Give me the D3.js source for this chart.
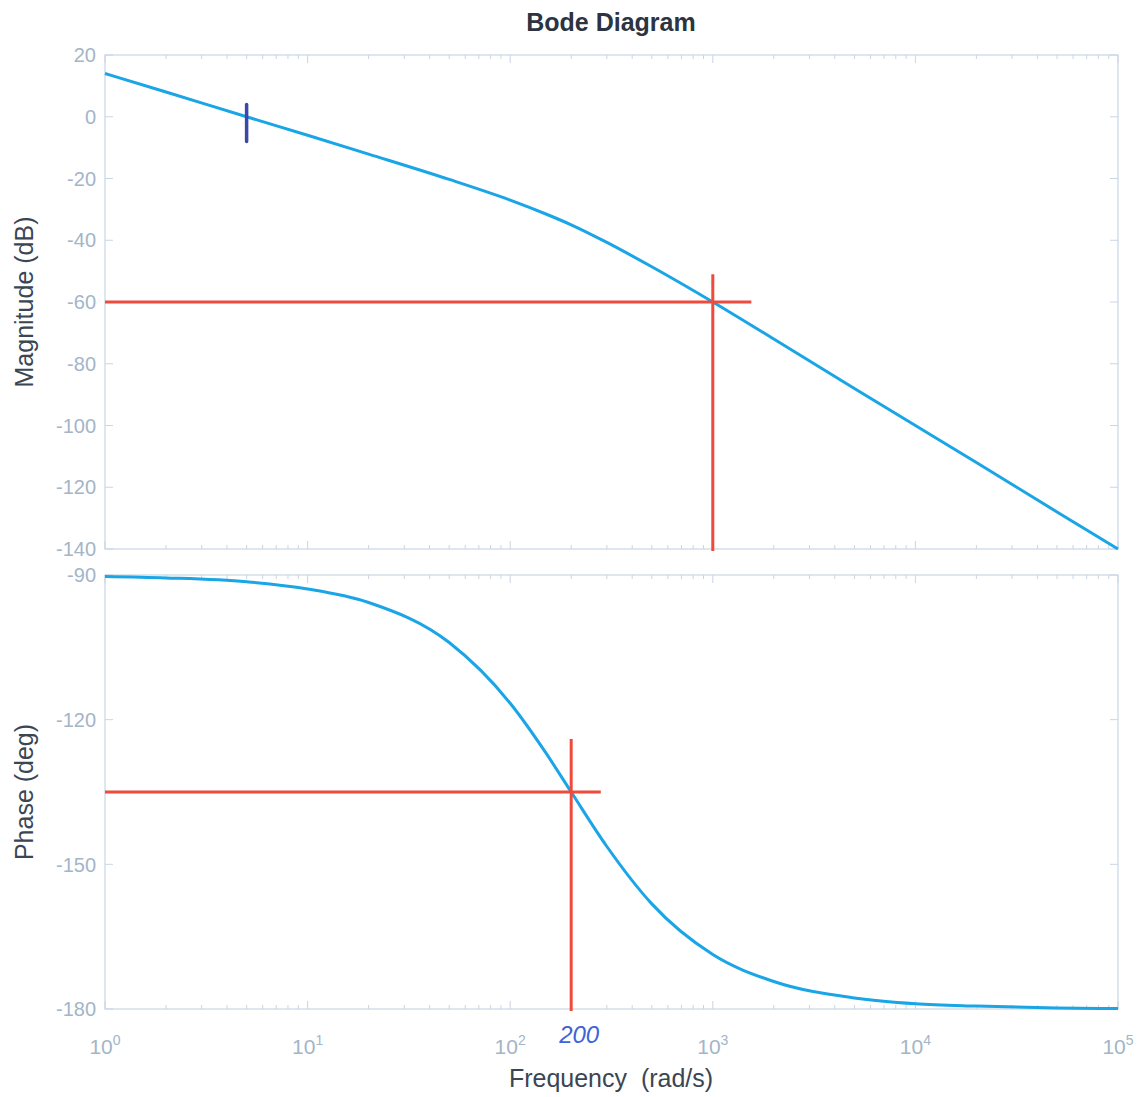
<!DOCTYPE html>
<html>
<head>
<meta charset="utf-8">
<script src="https://cdn.jsdelivr.net/npm/d3@7"></script>
<style>
  body { margin: 0; background: #fff; }
  text { font-family: "Liberation Sans", Arial, sans-serif; }
</style>
</head>
<body>
<div id="vis"></div>
<script>
// values
var freq     = [1, 2, 5, 10, 20, 50, 100, 150, 200, 300, 500, 1000, 2000, 5000, 1e4, 2e4, 5e4, 1e5];
var magDb    = [14, 8, 0, -6, -12.1, -20.3, -27, -31.5, -35, -40.7, -48.6, -60, -72, -88, -100, -112, -128, -140];
var phaseDeg = [-90.3, -90.6, -91.4, -92.9, -95.7, -104, -116.6, -126.9, -135, -146.3, -158.2, -168.7, -174.3, -177.7, -178.9, -179.4, -179.8, -179.9];

var magTicks   = [20, 0, -20, -40, -60, -80, -100, -120, -140];
var phaseTicks = [-90, -120, -150, -180];
var decades    = [0, 1, 2, 3, 4, 5];

// red marker lines (frequency, value, extents)
var magMarker   = {w: 1000, v: -60, hEnd: 1550, vTop: -51};
var phaseMarker = {w: 200, v: -135, hEnd: 280, vTop: -124};
var penMark = {w: 5, top: 4, bottom: -8};

var width = 1145, height = 1097;
var svg = d3.select("#vis").append("svg")
  .attr("width", width)
  .attr("height", height);

var left = 105, right = 1118;
var x = d3.scaleLog().domain([1, 1e5]).range([left, right]);
var yMag = d3.scaleLinear().domain([-140, 20]).range([549, 55]);
var yPh  = d3.scaleLinear().domain([-180, -90]).range([1009, 575]);

var axisColor = "#c9d6e4", labelColor = "#a3b5c8";
var blue = "#1aa5e6", red = "#ee4b3c";

// minor log ticks
var minor = [];
for (var k = 0; k < 5; k++) for (var m = 1; m < 10; m++) minor.push(m * Math.pow(10, k));
minor.push(1e5);

function drawPanel(y, yTicks) {
  var y0 = y.range()[0], y1 = y.range()[1];
  var g = svg.append("g");
  g.append("rect")
    .attr("x", left).attr("y", y1)
    .attr("width", right - left).attr("height", y0 - y1)
    .attr("fill", "none").attr("stroke", axisColor).attr("stroke-width", 1.2);

  minor.forEach(function(f) {
    var len = Math.log10(f) % 1 === 0 ? 8 : 4;
    g.append("line").attr("x1", x(f)).attr("x2", x(f)).attr("y1", y0).attr("y2", y0 - len)
      .attr("stroke", axisColor);
    g.append("line").attr("x1", x(f)).attr("x2", x(f)).attr("y1", y1).attr("y2", y1 + len)
      .attr("stroke", axisColor);
  });

  yTicks.forEach(function(t) {
    g.append("line").attr("x1", left).attr("x2", left + 8).attr("y1", y(t)).attr("y2", y(t))
      .attr("stroke", axisColor);
    g.append("line").attr("x1", right).attr("x2", right - 8).attr("y1", y(t)).attr("y2", y(t))
      .attr("stroke", axisColor);
    g.append("text")
      .attr("x", left - 9).attr("y", y(t))
      .attr("dy", "0.36em")
      .attr("text-anchor", "end")
      .attr("font-size", 20)
      .attr("fill", labelColor)
      .text(t);
  });
  return g;
}

drawPanel(yMag, magTicks);
drawPanel(yPh, phaseTicks);

// x tick labels with superscripts
decades.forEach(function(p) {
  var t = svg.append("text")
    .attr("x", x(Math.pow(10, p)))
    .attr("y", 1054)
    .attr("text-anchor", "middle")
    .attr("font-size", 21)
    .attr("fill", labelColor);
  t.append("tspan").text("10");
  t.append("tspan").attr("dy", -9).attr("font-size", 14).text(p);
});

var magLine = d3.line()
  .x(function(d, i) { return x(freq[i]); })
  .y(function(d) { return yMag(d); })
  .curve(d3.curveMonotoneX);
var phLine = d3.line()
  .x(function(d, i) { return x(freq[i]); })
  .y(function(d) { return yPh(d); })
  .curve(d3.curveMonotoneX);

svg.append("path").attr("d", magLine(magDb))
  .attr("fill", "none").attr("stroke", blue).attr("stroke-width", 3);
svg.append("path").attr("d", phLine(phaseDeg))
  .attr("fill", "none").attr("stroke", blue).attr("stroke-width", 3);

/* red construction lines */
function marker(y, mk) {
  svg.append("line")
    .attr("x1", left).attr("x2", x(mk.hEnd))
    .attr("y1", y(mk.v)).attr("y2", y(mk.v))
    .attr("stroke", red).attr("stroke-width", 3);
  svg.append("line")
    .attr("x1", x(mk.w)).attr("x2", x(mk.w))
    .attr("y1", y(mk.vTop)).attr("y2", y.range()[0] + 2)
    .attr("stroke", red).attr("stroke-width", 3);
}
marker(yMag, magMarker);
marker(yPh, phaseMarker);

// hand-drawn pen mark at crossover
svg.append("line")
  .attr("x1", x(penMark.w)).attr("x2", x(penMark.w))
  .attr("y1", yMag(penMark.top)).attr("y2", yMag(penMark.bottom))
  .attr("stroke", "#3c48a8").attr("stroke-width", 3.5)
  .attr("stroke-linecap", "round");

svg.append("text")
  .attr("x", x(phaseMarker.w) + 8)
  .attr("y", 1043)
  .attr("text-anchor", "middle")
  .attr("font-size", 24)
  .attr("font-style", "italic")
  .attr("fill", "#3f63d8")
  .text(phaseMarker.w);

// titles
svg.append("text")
  .attr("x", 611).attr("y", 31)
  .attr("text-anchor", "middle")
  .attr("font-size", 25).attr("font-weight", "bold")
  .attr("fill", "#2b3440")
  .text("Bode Diagram");

svg.append("text")
  .attr("transform", "translate(33," + ((55 + 549) / 2) + ") rotate(-90)")
  .attr("text-anchor", "middle")
  .attr("font-size", 25).attr("fill", "#3a4654")
  .text("Magnitude (dB)");

svg.append("text")
  .attr("transform", "translate(33," + ((575 + 1009) / 2) + ") rotate(-90)")
  .attr("text-anchor", "middle")
  .attr("font-size", 25).attr("fill", "#3a4654")
  .text("Phase (deg)");

svg.append("text")
  .attr("x", 611).attr("y", 1087)
  .attr("text-anchor", "middle")
  .attr("font-size", 25).attr("fill", "#3a4654")
  .attr("xml:space", "preserve")
  .text("Frequency  (rad/s)");
</script>
</body>
</html>
